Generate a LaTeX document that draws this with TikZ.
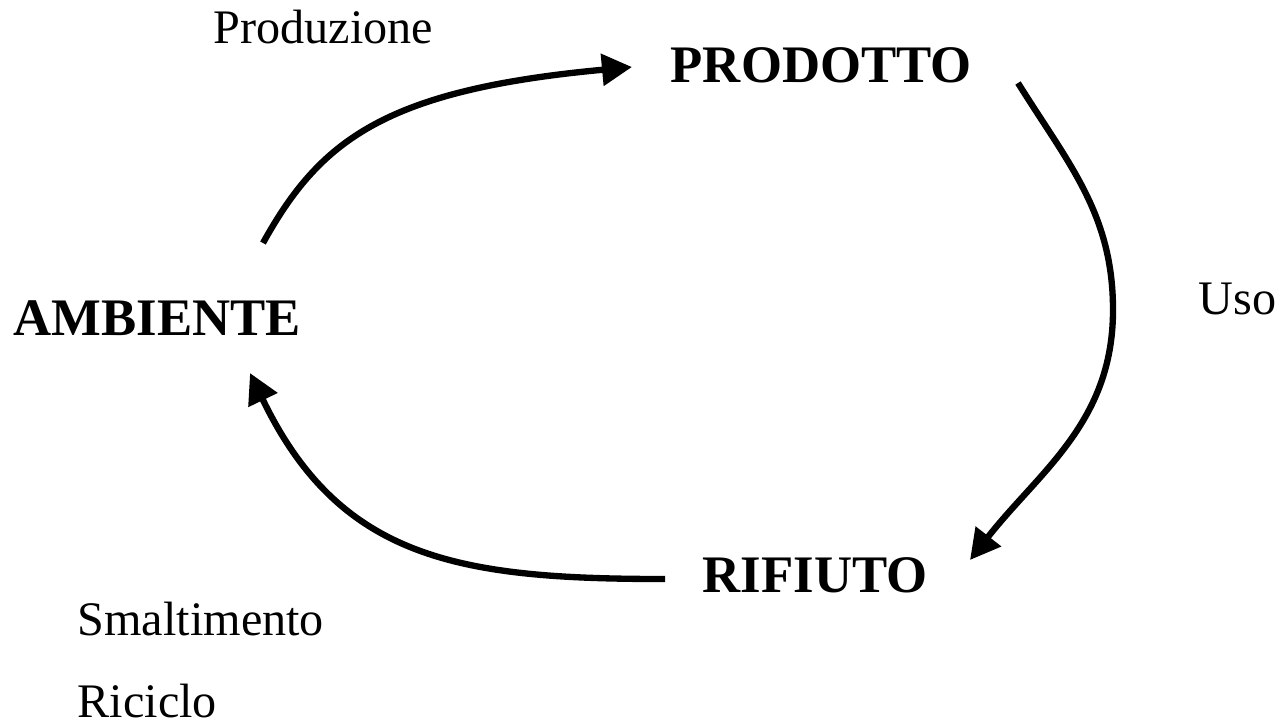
\documentclass[tikz,border=0pt]{standalone}
\usepackage{fontspec}
\setmainfont{Liberation Serif}
\usetikzlibrary{arrows.meta}
\begin{document}
\begin{tikzpicture}[x=0.01cm,y=-0.01cm,
  lbl/.style={inner sep=0pt,anchor=base west,font=\fontsize{13.7}{16}\selectfont},
  key/.style={inner sep=0pt,anchor=base west,font=\fontsize{15}{18}\selectfont\bfseries},
  flow/.style={line width=1.8pt,-{Triangle[length=0.3cm,width=0.31cm]}}]
\useasboundingbox (0,0) rectangle (1279,726);
\node[lbl] (produzione) at (213,43) {Produzione};
\node[key] (prodotto) at (670,82) {PRODOTTO};
\node[key] (ambiente) at (13,335) {AMBIENTE};
\node[lbl] (uso) at (1198,314) {Uso};
\node[key] (rifiuto) at (702,592) {RIFIUTO};
\node[lbl] (smaltimento) at (77,635) {Smaltimento};
\node[lbl] (riciclo) at (77,717) {Riciclo};
\coordinate (a1s) at (263,243);
\coordinate (a1e) at (632,67);
\coordinate (a2s) at (1018,83);
\coordinate (a2m) at (1113,310);
\coordinate (a2e) at (970,560);
\coordinate (a3s) at (665,579);
\coordinate (a3e) at (250,373);
\draw[flow] (a1s) .. controls (320,140) and (385,90) .. (a1e);
\draw[flow] (a2s) to[out=-58,in=90] (a2m) to[out=-90,in=52] (a2e);
\draw[flow] (a3s) .. controls (460,579) and (340,560) .. (a3e);
\end{tikzpicture}
\end{document}
